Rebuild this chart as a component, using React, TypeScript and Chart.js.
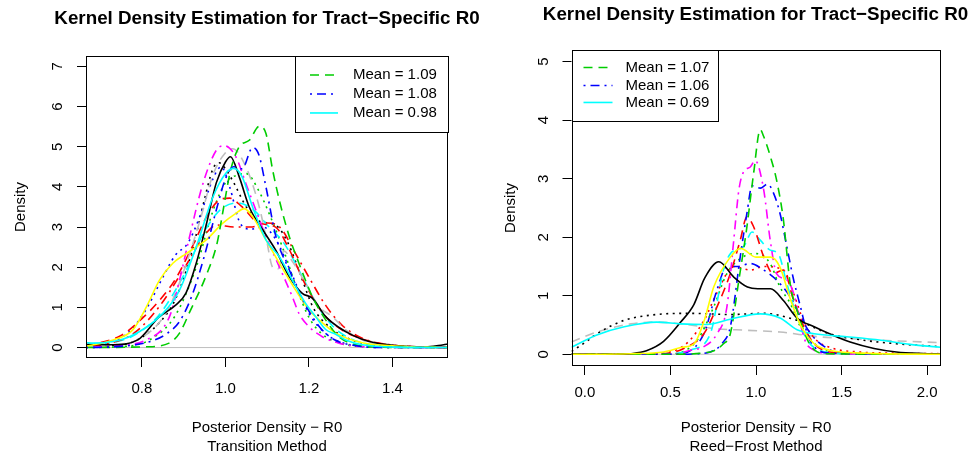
import React, { useEffect, useRef } from "react";
import { Chart, registerables } from "chart.js";
Chart.register(...registerables);

const FONT = '"Liberation Sans", Arial, Helvetica, sans-serif';
const MAIN_TITLE = "Kernel Density Estimation for Tract\u2212Specific R0";

// ---- axes ----
const T_X_TICKS = [0.8, 1.0, 1.2, 1.4];
const T_Y_TICKS = [0, 1, 2, 3, 4, 5, 6, 7];
const T_X_RANGE = [0.666, 1.533];
const T_Y_RANGE = [-0.26, 7.26];
const T_X_TITLE = ["Posterior Density \u2212 R0", "Transition Method"];

const R_X_TICKS = [0, 0.5, 1.0, 1.5, 2.0];
const R_Y_TICKS = [0, 1, 2, 3, 4, 5];
const R_X_RANGE = [-0.078, 2.078];
const R_Y_RANGE = [-0.2, 5.2];
const R_X_TITLE = ["Posterior Density \u2212 R0", "Reed\u2212Frost Method"];

const Y_TITLE = "Density";

// ---- legends ----
const T_LEGEND_LABELS = ["Mean = 1.09", "Mean = 1.08", "Mean = 0.98"];
const R_LEGEND_LABELS = ["Mean = 1.07", "Mean = 1.06", "Mean = 0.69"];

type Pt = [number, number];

// ---- Transition method densities ----
const T_BLACK_SOLID: Pt[] = [[0.666,0.08],[0.73,0.07],[0.79,0.19],[0.84,0.75],[0.88,1.05],[0.905,1.35],[0.93,2.1],[0.955,3.1],[0.978,4.1],[1.0,4.62],[1.012,4.75],[1.033,4.25],[1.057,3.5],[1.09,2.92],[1.12,2.43],[1.153,1.76],[1.184,1.35],[1.208,1.23],[1.24,0.77],[1.272,0.5],[1.304,0.31],[1.344,0.15],[1.407,0.05],[1.48,0.02],[1.51,0.05],[1.533,0.09]];
const T_BLACK_DOT: Pt[] = [[0.666,0.02],[0.72,0.05],[0.78,0.15],[0.84,0.6],[0.88,1.2],[0.92,2.4],[0.95,3.7],[0.97,4.45],[0.985,4.6],[1.0,4.45],[1.02,4.1],[1.05,3.5],[1.08,3.15],[1.12,3.05],[1.15,2.6],[1.18,1.8],[1.21,1.0],[1.25,0.5],[1.3,0.2],[1.36,0.06],[1.45,0.01],[1.533,0]];
const T_RED_DASH: Pt[] = [[0.666,0.06],[0.7,0.12],[0.75,0.3],[0.8,0.72],[0.84,1.15],[0.88,1.7],[0.92,2.5],[0.96,3.35],[0.99,3.7],[1.01,3.72],[1.04,3.5],[1.08,3.1],[1.12,3.0],[1.15,2.5],[1.19,1.6],[1.23,0.9],[1.27,0.5],[1.31,0.28],[1.36,0.12],[1.42,0.04],[1.533,0]];
const T_RED_DOT: Pt[] = [[0.666,0.03],[0.72,0.1],[0.78,0.35],[0.84,1.0],[0.9,1.95],[0.95,2.8],[0.98,3.05],[1.02,3.0],[1.06,3.0],[1.1,3.1],[1.13,3.0],[1.17,2.3],[1.2,1.75],[1.24,1.05],[1.28,0.55],[1.33,0.22],[1.4,0.06],[1.48,0.01],[1.533,0]];
const T_GREEN_DASH: Pt[] = [[0.666,0],[0.81,0.02],[0.865,0.11],[0.89,0.36],[0.915,0.9],[0.954,1.8],[0.98,2.6],[0.995,3.45],[1.012,4.4],[1.033,5.0],[1.057,5.16],[1.081,5.51],[1.097,5.33],[1.113,4.42],[1.129,3.67],[1.153,2.76],[1.176,2.1],[1.208,1.27],[1.24,0.69],[1.272,0.27],[1.312,0.07],[1.368,0.01],[1.533,0]];
const T_GREEN_DOT: Pt[] = [[0.666,0],[0.76,0.03],[0.82,0.2],[0.88,0.8],[0.93,2.0],[0.97,3.4],[1.0,4.1],[1.03,4.3],[1.05,4.33],[1.08,3.9],[1.11,3.2],[1.14,2.4],[1.17,1.5],[1.2,0.75],[1.23,0.35],[1.27,0.12],[1.32,0.03],[1.4,0],[1.533,0]];
const T_BLUE_DOTDASH: Pt[] = [[0.666,0],[0.75,0.03],[0.82,0.15],[0.86,0.35],[0.89,0.65],[0.92,1.3],[0.95,2.3],[0.98,3.5],[1.0,4.2],[1.02,4.5],[1.04,4.45],[1.065,4.98],[1.08,4.8],[1.097,4.0],[1.121,2.76],[1.153,1.93],[1.185,1.19],[1.225,0.52],[1.26,0.2],[1.31,0.05],[1.38,0],[1.533,0]];
const T_BLUE_DOT: Pt[] = [[0.666,0.04],[0.72,0.12],[0.77,0.4],[0.81,0.95],[0.85,1.75],[0.88,2.3],[0.91,2.6],[0.94,3.3],[0.97,4.2],[0.99,4.5],[1.01,4.0],[1.035,3.1],[1.06,2.95],[1.09,3.0],[1.12,2.7],[1.16,1.8],[1.2,0.85],[1.24,0.35],[1.28,0.12],[1.34,0.02],[1.533,0]];
const T_CYAN_SOLID: Pt[] = [[0.666,0.12],[0.683,0.11],[0.77,0.27],[0.85,0.85],[0.89,1.43],[0.93,2.51],[0.97,3.75],[1.0,4.33],[1.02,4.46],[1.04,4.25],[1.065,3.5],[1.097,2.68],[1.129,2.26],[1.16,1.68],[1.192,1.1],[1.216,0.77],[1.24,0.45],[1.264,0.33],[1.288,0.19],[1.328,0.07],[1.41,0.01],[1.533,0]];
const T_CYAN_DASH: Pt[] = [[0.666,0.03],[0.72,0.1],[0.78,0.3],[0.84,0.8],[0.9,1.8],[0.95,2.9],[0.99,3.45],[1.03,3.6],[1.07,3.4],[1.1,3.05],[1.14,2.6],[1.18,1.85],[1.22,1.05],[1.26,0.5],[1.3,0.22],[1.36,0.05],[1.42,0.01],[1.533,0]];
const T_MAGENTA: Pt[] = [[0.666,0],[0.73,0.04],[0.81,0.19],[0.866,0.77],[0.89,1.68],[0.914,2.76],[0.946,4.08],[0.978,4.91],[0.997,5.03],[1.025,4.75],[1.049,4.08],[1.073,3.42],[1.097,2.76],[1.129,2.01],[1.16,1.27],[1.176,0.85],[1.2,0.52],[1.232,0.27],[1.272,0.11],[1.328,0.02],[1.533,0]];
const T_GRAY_DASH: Pt[] = [[0.666,0.01],[0.72,0.05],[0.8,0.25],[0.86,0.9],[0.9,1.9],[0.94,3.2],[0.97,4.3],[1.0,4.85],[1.017,4.95],[1.049,4.5],[1.081,3.5],[1.097,2.76],[1.113,2.0],[1.125,1.95],[1.14,2.4],[1.16,2.15],[1.192,1.6],[1.224,1.02],[1.256,0.77],[1.288,0.44],[1.328,0.19],[1.368,0.07],[1.43,0.01],[1.533,0]];
const T_YELLOW: Pt[] = [[0.666,0.03],[0.731,0.19],[0.778,0.44],[0.811,1.02],[0.842,1.68],[0.874,2.1],[0.906,2.34],[0.954,2.68],[0.993,3.09],[1.025,3.34],[1.045,3.46],[1.065,3.26],[1.097,2.68],[1.129,2.1],[1.168,1.43],[1.2,0.94],[1.224,0.69],[1.264,0.36],[1.328,0.12],[1.407,0.04],[1.533,0]];

// ---- Reed-Frost method densities ----
const R_GREEN_DASH: Pt[] = [[-0.078,0],[0.5,0],[0.733,0.04],[0.81,0.18],[0.85,0.35],[0.9,1.27],[0.947,2.18],[0.986,3.09],[1.025,3.84],[1.045,3.72],[1.084,3.38],[1.12,2.98],[1.16,2.3],[1.2,1.2],[1.24,0.75],[1.3,0.25],[1.34,0.08],[1.4,0.01],[2.078,0]];
const R_MAGENTA: Pt[] = [[-0.078,0],[0.4,0],[0.54,0.01],[0.617,0.07],[0.695,0.13],[0.772,0.35],[0.83,0.81],[0.87,1.95],[0.9,2.81],[0.928,3.12],[0.967,3.2],[0.995,3.31],[1.045,2.81],[1.083,1.95],[1.12,1.38],[1.18,1.27],[1.22,1.04],[1.26,0.52],[1.29,0.21],[1.34,0.07],[1.43,0.01],[2.078,0]];
const R_BLUE_DOTDASH: Pt[] = [[-0.078,0],[0.5,0],[0.656,0.01],[0.733,0.04],[0.8,0.18],[0.85,0.47],[0.908,1.67],[0.947,2.41],[0.977,2.88],[1.025,2.84],[1.068,2.91],[1.103,2.75],[1.14,2.41],[1.18,1.84],[1.22,1.27],[1.26,0.81],[1.3,0.35],[1.34,0.13],[1.43,0.02],[2.078,0]];
const R_RED_DASH: Pt[] = [[-0.078,0],[0.3,0],[0.46,0.01],[0.578,0.1],[0.695,0.35],[0.772,0.81],[0.85,1.38],[0.908,1.95],[0.947,2.35],[0.986,2.18],[1.045,1.67],[1.1,1.38],[1.16,1.44],[1.22,0.92],[1.28,0.47],[1.34,0.18],[1.43,0.04],[1.63,0.01],[2.078,0]];
const R_RED_DOT: Pt[] = [[-0.078,0],[0.3,0],[0.48,0.03],[0.6,0.2],[0.7,0.6],[0.77,1.04],[0.87,1.5],[0.967,1.44],[1.045,1.5],[1.16,1.44],[1.22,1.04],[1.28,0.55],[1.35,0.25],[1.45,0.1],[1.6,0.04],[1.8,0.02],[2.078,0.01]];
const R_CYAN_DASH: Pt[] = [[-0.078,0],[0.4,0],[0.5,0.01],[0.617,0.07],[0.733,0.35],[0.81,1.44],[0.85,1.72],[0.928,1.84],[0.977,2.09],[1.025,1.95],[1.083,1.78],[1.13,1.72],[1.18,1.21],[1.24,0.64],[1.3,0.24],[1.37,0.07],[1.53,0.01],[2.078,0]];
const R_YELLOW: Pt[] = [[-0.078,0],[0.27,0.01],[0.46,0.04],[0.57,0.12],[0.638,0.18],[0.7,0.6],[0.753,1.15],[0.85,1.66],[0.91,1.81],[1.0,1.66],[1.085,1.66],[1.14,1.49],[1.2,0.95],[1.26,0.5],[1.34,0.18],[1.43,0.07],[1.63,0.02],[2.078,0]];
const R_GREEN_DOT: Pt[] = [[-0.078,0],[0.4,0],[0.52,0.01],[0.656,0.24],[0.753,0.81],[0.83,1.38],[0.928,1.67],[1.003,1.72],[1.083,1.55],[1.14,1.15],[1.2,0.87],[1.26,0.47],[1.32,0.24],[1.4,0.07],[1.55,0.01],[2.078,0]];
const R_BLUE_DOT: Pt[] = [[-0.078,0],[0.45,0],[0.56,0.01],[0.695,0.35],[0.772,1.1],[0.83,1.5],[0.89,1.5],[0.967,1.55],[1.045,1.44],[1.12,1.27],[1.2,0.98],[1.26,0.64],[1.32,0.35],[1.4,0.13],[1.51,0.02],[2.078,0]];
const R_BLACK_SOLID: Pt[] = [[-0.078,0],[0.2,0],[0.27,0.01],[0.36,0.06],[0.46,0.22],[0.56,0.55],[0.637,0.85],[0.7,1.3],[0.783,1.58],[0.87,1.32],[0.95,1.15],[1.01,1.12],[1.085,1.12],[1.16,0.92],[1.24,0.62],[1.34,0.47],[1.43,0.35],[1.55,0.21],[1.69,0.1],[1.82,0.04],[2.0,0.01],[2.078,0]];
const R_BLACK_DOT: Pt[] = [[-0.078,0.05],[0.0,0.2],[0.07,0.35],[0.23,0.58],[0.42,0.68],[0.617,0.7],[0.85,0.68],[1.045,0.7],[1.24,0.58],[1.43,0.35],[1.63,0.24],[1.82,0.18],[2.078,0.13]];
const R_CYAN_SOLID: Pt[] = [[-0.078,0.12],[0.07,0.33],[0.23,0.47],[0.42,0.55],[0.56,0.52],[0.714,0.51],[0.85,0.6],[1.025,0.69],[1.14,0.62],[1.24,0.42],[1.34,0.35],[1.53,0.3],[1.73,0.24],[1.9,0.17],[2.078,0.12]];
const R_GRAY_DASH: Pt[] = [[-0.078,0.21],[0.07,0.38],[0.27,0.52],[0.42,0.55],[0.617,0.5],[0.753,0.44],[0.95,0.41],[1.14,0.38],[1.36,0.3],[1.53,0.27],[1.73,0.24],[2.078,0.2]];

// ---- styles ----
const BLACK = "#000000";
const RED = "#FF0000";
const GREEN = "#00CD00";
const BLUE = "#0000FF";
const CYAN = "#00FFFF";
const MAGENTA = "#FF00FF";
const YELLOW = "#FFFF00";
const GRAY = "#BEBEBE";
const SOLID: number[] = [];
const DASHED = [9, 6];
const DOTTED = [2, 4.5];
const DOTDASH = [2, 5, 9, 5];

type Series = { data: Pt[]; color: string; dash: number[] };

const T_SERIES: Series[] = [
  { data: T_CYAN_SOLID, color: CYAN, dash: SOLID },
  { data: T_BLUE_DOTDASH, color: BLUE, dash: DOTDASH },
  { data: T_GREEN_DASH, color: GREEN, dash: DASHED },
  { data: T_YELLOW, color: YELLOW, dash: SOLID },
  { data: T_BLACK_SOLID, color: BLACK, dash: SOLID },
  { data: T_MAGENTA, color: MAGENTA, dash: DOTDASH },
  { data: T_GRAY_DASH, color: GRAY, dash: DASHED },
  { data: T_RED_DASH, color: RED, dash: DASHED },
  { data: T_RED_DOT, color: RED, dash: DOTDASH },
  { data: T_CYAN_DASH, color: CYAN, dash: DASHED },
  { data: T_GREEN_DOT, color: GREEN, dash: DOTTED },
  { data: T_BLUE_DOT, color: BLUE, dash: DOTTED },
  { data: T_BLACK_DOT, color: BLACK, dash: DOTTED },
];

const R_SERIES: Series[] = [
  { data: R_YELLOW, color: YELLOW, dash: SOLID },
  { data: R_CYAN_SOLID, color: CYAN, dash: SOLID },
  { data: R_BLACK_SOLID, color: BLACK, dash: SOLID },
  { data: R_GREEN_DASH, color: GREEN, dash: DASHED },
  { data: R_BLUE_DOTDASH, color: BLUE, dash: DOTDASH },
  { data: R_MAGENTA, color: MAGENTA, dash: DOTDASH },
  { data: R_RED_DASH, color: RED, dash: DASHED },
  { data: R_CYAN_DASH, color: CYAN, dash: DASHED },
  { data: R_GREEN_DOT, color: GREEN, dash: DOTTED },
  { data: R_BLUE_DOT, color: BLUE, dash: DOTDASH },
  { data: R_RED_DOT, color: RED, dash: DOTTED },
  { data: R_BLACK_DOT, color: BLACK, dash: DOTTED },
  { data: R_GRAY_DASH, color: GRAY, dash: DASHED },
];

const LEGEND_STYLES: Series[] = [
  { data: [], color: GREEN, dash: DASHED },
  { data: [], color: BLUE, dash: DOTDASH },
  { data: [], color: CYAN, dash: SOLID },
];

type PanelCfg = {
  series: Series[];
  xTicks: number[];
  yTicks: number[];
  xRange: number[];
  yRange: number[];
  xTitle: string[];
  legendLabels: string[];
  legendCorner: "left" | "right";
  legendBox: { w: number; h: number; lineX0: number; lineX1: number; textX: number; rows: number[] };
  canvasWidth: number;
  yAxisWidth: number;
  xAxisHeight: number;
  padRight: number;
  titlePadTop: number;
  titlePadBottom: number;
  xTickPad: number;
  yTitlePad: number;
};

function legendPlugin(cfg: PanelCfg) {
  return {
    id: "rLegend",
    afterDraw(chart: any) {
      const { ctx, chartArea } = chart;
      const b = cfg.legendBox;
      const x0 = cfg.legendCorner === "right" ? chartArea.right - b.w : chartArea.left;
      const y0 = chartArea.top;
      ctx.save();
      ctx.fillStyle = "#ffffff";
      ctx.fillRect(x0, y0, b.w, b.h);
      ctx.strokeStyle = "#000";
      ctx.lineWidth = 1;
      ctx.setLineDash([]);
      ctx.strokeRect(Math.round(x0) + 0.5, Math.round(y0) + 0.5, Math.round(b.w), Math.round(b.h));
      ctx.font = `15px ${FONT}`;
      ctx.textBaseline = "middle";
      ctx.textAlign = "left";
      cfg.legendLabels.forEach((label, i) => {
        const st = LEGEND_STYLES[i];
        const y = y0 + b.rows[i];
        ctx.strokeStyle = st.color;
        ctx.lineWidth = 1.6;
        ctx.setLineDash(st.dash);
        ctx.beginPath();
        ctx.moveTo(x0 + b.lineX0, y);
        ctx.lineTo(x0 + b.lineX1, y);
        ctx.stroke();
        ctx.setLineDash([]);
        ctx.fillStyle = "#000";
        ctx.fillText(label, x0 + b.textX, y);
      });
      ctx.restore();
    },
  };
}

const boxPlugin = {
  id: "rBox",
  afterDatasetsDraw(chart: any) {
    const { ctx, chartArea } = chart;
    ctx.save();
    ctx.strokeStyle = "#000";
    ctx.lineWidth = 1;
    ctx.setLineDash([]);
    const l = Math.round(chartArea.left) + 0.5;
    const t = Math.round(chartArea.top) + 0.5;
    const r = Math.round(chartArea.right) - 0.5;
    const btm = Math.round(chartArea.bottom) - 0.5;
    ctx.strokeRect(l, t, r - l, btm - t);
    ctx.restore();
  },
};

function makeConfig(cfg: PanelCfg): any {
  const datasets: any[] = cfg.series.map((s) => ({
    data: s.data.map(([x, y]) => ({ x, y })),
    borderColor: s.color,
    borderDash: s.dash,
    borderWidth: 1.6,
    pointRadius: 0,
    fill: false,
    cubicInterpolationMode: "monotone",
  }));
  datasets.push({
    data: [
      { x: cfg.xRange[0], y: 0 },
      { x: cfg.xRange[1], y: 0 },
    ],
    borderColor: GRAY,
    borderWidth: 1,
    pointRadius: 0,
    fill: false,
  });
  const tickFont = { family: FONT, size: 15 };
  return {
    type: "line",
    data: { datasets },
    plugins: [boxPlugin, legendPlugin(cfg)],
    options: {
      animation: false,
      responsive: false,
      devicePixelRatio: 1,
      events: [],
      layout: { padding: 0 },
      plugins: {
        legend: { display: false },
        tooltip: { enabled: false },
        title: {
          display: true,
          text: MAIN_TITLE,
          color: "#000",
          font: { family: FONT, size: 18.8, weight: "bold", lineHeight: 1.2 },
          padding: { top: cfg.titlePadTop, bottom: cfg.titlePadBottom },
        },
      },
      scales: {
        x: {
          type: "linear",
          min: cfg.xRange[0],
          max: cfg.xRange[1],
          afterBuildTicks: (s: any) => {
            s.ticks = cfg.xTicks.map((v) => ({ value: v }));
          },
          afterFit: (s: any) => {
            s.height = cfg.xAxisHeight;
          },
          border: { display: false },
          grid: { display: true, drawOnChartArea: false, drawTicks: true, tickLength: 9, color: "#000", lineWidth: 1 },
          ticks: {
            color: "#000",
            font: tickFont,
            padding: cfg.xTickPad,
            autoSkip: false,
            maxRotation: 0,
            minRotation: 0,
            callback: (v: any) => Number(v).toFixed(1),
          },
          title: {
            display: true,
            text: cfg.xTitle,
            color: "#000",
            font: { family: FONT, size: 15, lineHeight: 1.27 },
            padding: { top: 0, bottom: 1.5 },
          },
        },
        y: {
          type: "linear",
          position: "left",
          min: cfg.yRange[0],
          max: cfg.yRange[1],
          afterBuildTicks: (s: any) => {
            s.ticks = cfg.yTicks.map((v) => ({ value: v }));
          },
          afterFit: (s: any) => {
            s.width = cfg.yAxisWidth;
          },
          border: { display: false },
          grid: { display: true, drawOnChartArea: false, drawTicks: true, tickLength: 9, color: "#000", lineWidth: 1 },
          ticks: {
            color: "#000",
            font: tickFont,
            padding: 14.5,
            autoSkip: false,
            minRotation: 90,
            maxRotation: 90,
            crossAlign: "center",
            callback: (v: any) => String(v),
          },
          title: {
            display: true,
            text: Y_TITLE,
            color: "#000",
            font: { family: FONT, size: 15, lineHeight: 1.2 },
            padding: { top: cfg.yTitlePad, bottom: 0 },
          },
        },
        // empty right margin so the title is centred over the plot region
        spacer: {
          type: "linear",
          position: "right",
          display: true,
          min: 0,
          max: 1,
          afterFit: (s: any) => {
            s.width = cfg.padRight;
          },
          border: { display: false },
          grid: { display: false, drawTicks: false },
          ticks: { display: false },
          title: { display: false },
        },
      },
    },
  };
}

const T_CFG: PanelCfg = {
  series: T_SERIES,
  xTicks: T_X_TICKS,
  yTicks: T_Y_TICKS,
  xRange: T_X_RANGE,
  yRange: T_Y_RANGE,
  xTitle: T_X_TITLE,
  legendLabels: T_LEGEND_LABELS,
  legendCorner: "right",
  legendBox: { w: 153, h: 76, lineX0: 15, lineX1: 43, textX: 58, rows: [19, 38, 57] },
  canvasWidth: 534,
  yAxisWidth: 86,
  xAxisHeight: 100,
  padRight: 86,
  titlePadTop: 7.7,
  titlePadBottom: 25.7,
  xTickPad: 13.3,
  yTitlePad: 11.7,
};

const R_CFG: PanelCfg = {
  series: R_SERIES,
  xTicks: R_X_TICKS,
  yTicks: R_Y_TICKS,
  xRange: R_X_RANGE,
  yRange: R_Y_RANGE,
  xTitle: R_X_TITLE,
  legendLabels: R_LEGEND_LABELS,
  legendCorner: "left",
  legendBox: { w: 146, h: 71, lineX0: 12, lineX1: 41, textX: 54, rows: [17.5, 35.5, 52.5] },
  canvasWidth: 533,
  yAxisWidth: 82.5,
  xAxisHeight: 92,
  padRight: 81.5,
  titlePadTop: 3.7,
  titlePadBottom: 23.7,
  xTickPad: 9.3,
  yTitlePad: 12.7,
};

function Panel({ cfg, left }: { cfg: PanelCfg; left: number }) {
  const ref = useRef<HTMLCanvasElement>(null);
  useEffect(() => {
    const chart = new Chart(ref.current as HTMLCanvasElement, makeConfig(cfg));
    return () => chart.destroy();
  }, [cfg]);
  return (
    <canvas
      ref={ref}
      width={cfg.canvasWidth}
      height={458}
      style={{ position: "absolute", left, top: 0, width: cfg.canvasWidth, height: 458 }}
    />
  );
}

export default function App() {
  return (
    <div
      style={{
        position: "fixed",
        left: 0,
        top: 0,
        width: 977,
        height: 458,
        overflow: "hidden",
        background: "#ffffff",
      }}
    >
      <Panel cfg={T_CFG} left={0} />
      <Panel cfg={R_CFG} left={489} />
    </div>
  );
}
